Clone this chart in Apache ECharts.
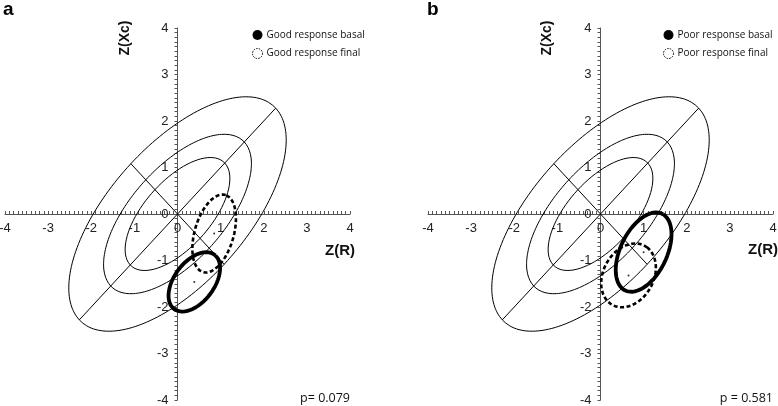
<!DOCTYPE html>
<html>
<head>
<meta charset="utf-8">
<script src="https://cdn.jsdelivr.net/npm/echarts@6/dist/echarts.min.js"></script>
<style>html,body{margin:0;padding:0;background:#fff}#c{width:778px;height:406px}</style>
</head>
<body>
<div id="c"></div>
<script>
// ---- data ----
const axisMin = -4, axisMax = 4, axisStep = 1;
const panelLetters = ['a', 'b'];
const pValues = ['p= 0.079', 'p = 0.581'];
// tolerance ellipses 50%, 75%, 95% (semi-major, semi-minor, angle in degrees)
const tolLevels = ['50%', '75%', '95%'];
const tolMajor = [1.55, 2.19, 3.22];
const tolMinor = [0.74, 1.04, 1.53];
const tolAngle = 45;
// panel a: good response
const goodNames = ['Good response basal', 'Good response final'];
const goodCenters = [[0.39, -1.46], [0.85, -0.42]];
const goodAxes = [[0.75, 0.45], [0.87, 0.45]];
const goodAngles = [49, 72];
// panel b: poor response
const poorNames = ['Poor response basal', 'Poor response final'];
const poorCenters = [[1.00, -0.82], [0.65, -1.32]];
const poorAxes = [[0.93, 0.53], [0.74, 0.57]];
const poorAngles = [61, 54];

// ---- geometry helpers ----
function ellipse(cx, cy, a, b, deg) {
  const th = deg * Math.PI / 180, pts = [];
  for (let i = 0; i <= 180; i++) {
    const t = i / 180 * 2 * Math.PI;
    pts.push([cx + a * Math.cos(t) * Math.cos(th) - b * Math.sin(t) * Math.sin(th),
              cy + a * Math.cos(t) * Math.sin(th) + b * Math.sin(t) * Math.cos(th)]);
  }
  return pts;
}
function axisSegment(len, deg) {
  const th = deg * Math.PI / 180;
  return [[-len * Math.cos(th), -len * Math.sin(th)], [len * Math.cos(th), len * Math.sin(th)]];
}

const grids = [
  {left: 5, top: 28, width: 345, height: 372, containLabel: false, outerBoundsMode: 'none'},
  {left: 428, top: 28, width: 345, height: 372, containLabel: false, outerBoundsMode: 'none'}
];
const axisColor = '#555';
const labelStyle = {color: '#222', fontSize: 13, fontFamily: 'Liberation Sans, Arial, sans-serif'};

const xAxes = grids.map((g, i) => ({
  type: 'value', gridIndex: i, min: axisMin, max: axisMax, interval: axisStep,
  position: 'bottom', offset: -g.height / 2,
  axisLine: {onZero: false, lineStyle: {color: axisColor, width: 1}},
  axisTick: {show: true, inside: true, length: 3, lineStyle: {color: axisColor}},
  minorTick: {show: true, splitNumber: 10, length: 3, lineStyle: {color: axisColor}},
  splitLine: {show: false},
  axisLabel: Object.assign({margin: 8, showMinLabel: true, showMaxLabel: true}, labelStyle)
}));
const yAxes = grids.map((g, i) => ({
  type: 'value', gridIndex: i, min: axisMin, max: axisMax, interval: axisStep,
  position: 'left', offset: -g.width / 2,
  axisLine: {onZero: false, lineStyle: {color: axisColor, width: 1}},
  axisTick: {show: true, inside: false, length: 3, lineStyle: {color: axisColor}},
  minorTick: {show: true, splitNumber: 10, length: 3, lineStyle: {color: axisColor}},
  splitLine: {show: false},
  axisLabel: Object.assign({margin: 9, showMinLabel: true, showMaxLabel: true}, labelStyle)
}));

const series = [];
function addPanel(i, names, centers, axes, angles) {
  tolLevels.forEach((lv, k) => {
    series.push({
      type: 'line', name: 'Tolerance ' + lv, xAxisIndex: i, yAxisIndex: i,
      data: ellipse(0, 0, tolMajor[k], tolMinor[k], tolAngle),
      showSymbol: false, symbol: 'none', silent: true, z: 2,
      lineStyle: {color: '#000', width: 1}
    });
  });
  series.push({
    type: 'line', name: 'major axis', xAxisIndex: i, yAxisIndex: i,
    data: axisSegment(tolMajor[2], tolAngle), symbol: 'none', silent: true, z: 2,
    lineStyle: {color: '#000', width: 1}
  });
  series.push({
    type: 'line', name: 'minor axis', xAxisIndex: i, yAxisIndex: i,
    data: axisSegment(tolMinor[2], tolAngle + 90), symbol: 'none', silent: true, z: 2,
    lineStyle: {color: '#000', width: 1}
  });
  series.push({
    type: 'line', name: names[0], xAxisIndex: i, yAxisIndex: i,
    data: ellipse(centers[0][0], centers[0][1], axes[0][0], axes[0][1], angles[0]),
    symbol: 'none', z: 4, itemStyle: {color: '#000'},
    lineStyle: {color: '#000', width: 3.8}
  });
  series.push({
    type: 'line', name: names[1], xAxisIndex: i, yAxisIndex: i,
    data: ellipse(centers[1][0], centers[1][1], axes[1][0], axes[1][1], angles[1]),
    symbol: 'none', z: 3, itemStyle: {color: '#000'},
    lineStyle: {color: '#000', width: 2.6, type: [4, 2.5]}
  });
  series.push({
    type: 'scatter', name: 'centres', xAxisIndex: i, yAxisIndex: i,
    data: centers, symbolSize: 2, silent: true, z: 5, itemStyle: {color: '#000'}
  });
}
addPanel(0, goodNames, goodCenters, goodAxes, goodAngles);
addPanel(1, poorNames, poorCenters, poorAxes, poorAngles);

function legendFor(names, left) {
  return {
    orient: 'vertical', left: left, top: 25, itemWidth: 10, itemHeight: 10, itemGap: 8,
    selectedMode: false,
    textStyle: {fontSize: 10, fontFamily: 'Open Sans, sans-serif', color: '#111', padding: [0, 0, 0, -1]},
    data: [
      {name: names[0], icon: 'circle', itemStyle: {color: '#000', borderWidth: 0}},
      {name: names[1], icon: 'circle', itemStyle: {color: '#fff', borderColor: '#000', borderWidth: 1, borderType: [1.5, 1.2]}}
    ]
  };
}

const bold = 'bold 15px "Liberation Sans", Arial, sans-serif';
const graphic = [
  {type: 'text', left: 3, top: 0, style: {text: panelLetters[0], font: 'bold 19px "Liberation Sans", Arial, sans-serif', fill: '#000'}},
  {type: 'text', left: 427, top: 0, style: {text: panelLetters[1], font: 'bold 19px "Liberation Sans", Arial, sans-serif', fill: '#000'}},
  {type: 'text', x: 355, y: 251, style: {text: 'Z(R)', font: bold, fill: '#111', align: 'right', verticalAlign: 'middle'}},
  {type: 'text', x: 778, y: 250, style: {text: 'Z(R)', font: bold, fill: '#111', align: 'right', verticalAlign: 'middle'}},
  {type: 'text', x: 125, y: 38, rotation: Math.PI / 2, style: {text: 'Z(Xc)', font: 'bold 14px "Liberation Sans", Arial, sans-serif', fill: '#111', align: 'center', verticalAlign: 'middle'}},
  {type: 'text', x: 547, y: 38, rotation: Math.PI / 2, style: {text: 'Z(Xc)', font: 'bold 14px "Liberation Sans", Arial, sans-serif', fill: '#111', align: 'center', verticalAlign: 'middle'}},
  {type: 'text', x: 350, y: 398, style: {text: pValues[0], font: '12.5px "Open Sans", sans-serif', fill: '#111', align: 'right', verticalAlign: 'middle'}},
  {type: 'text', x: 773, y: 398, style: {text: pValues[1], font: '12.5px "Open Sans", sans-serif', fill: '#111', align: 'right', verticalAlign: 'middle'}}
];

const chart = echarts.init(document.getElementById('c'), null, {renderer: 'canvas'});
chart.setOption({
  animation: false,
  backgroundColor: '#fff',
  grid: grids,
  xAxis: xAxes,
  yAxis: yAxes,
  legend: [legendFor(goodNames, 247), legendFor(poorNames, 658)],
  graphic: graphic,
  series: series
});
</script>
</body>
</html>
